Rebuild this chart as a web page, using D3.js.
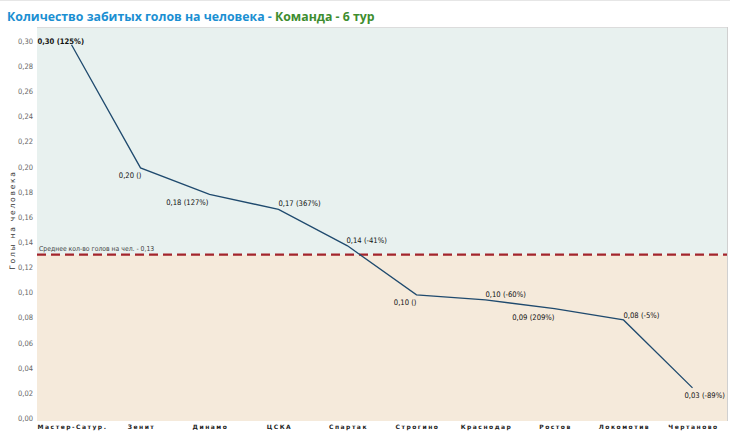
<!DOCTYPE html>
<html><head><meta charset="utf-8">
<script src="https://cdn.jsdelivr.net/npm/d3@7"></script>
<style>
html,body{margin:0;padding:0;background:#fff;}
svg{display:block;}
</style></head>
<body>
<svg id="chart" width="730" height="433"></svg>
<script>
// ---- data ----
const categories = ["Мастер-Сатур.","Зенит","Динамо","ЦСКА","Спартак","Строгино","Краснодар","Ростов","Локомотив","Чертаново"];
const values = [0.297, 0.199, 0.178, 0.166, 0.137, 0.098, 0.094, 0.087, 0.078, 0.024];
const valueLabels = ["0,30 (125%)","0,20 ()","0,18 (127%)","0,17 (367%)","0,14 (-41%)","0,10 ()","0,10 (-60%)","0,09 (209%)","0,08 (-5%)","0,03 (-89%)"];
const yTicks = [0,0.02,0.04,0.06,0.08,0.10,0.12,0.14,0.16,0.18,0.20,0.22,0.24,0.26,0.28,0.30];
const average = 0.13;
const averageLabel = "Среднее кол-во голов на чел. - 0,13";
const titleMain = "Количество забитых голов на человека - ";
const titleSub = "Команда - 6 тур";
const yAxisTitle = "Голы на человека";

// label placement (layout only): anchor side and shifts
const labelPlace = [
  {a:"start", dx:-34, dy:-1}, {a:"end", dx:1, dy:10}, {a:"end", dx:-1, dy:11}, {a:"start", dx:0, dy:-3},
  {a:"start", dx:-1, dy:-3}, {a:"end", dx:0, dy:10}, {a:"start", dx:0, dy:-3}, {a:"end", dx:0, dy:11},
  {a:"start", dx:0, dy:-2}, {a:"start", dx:-8, dy:10}
];

const svg = d3.select("#chart");
const W = 730, H = 433;
const plot = {left:37, right:727, top:27, bottom:421};

const x = d3.scaleBand().domain(categories).range([plot.left, plot.right]);
const y = d3.scaleLinear().domain([0, 0.30]).range([418, 41]);

// top border line
svg.append("line").attr("x1",0).attr("x2",W).attr("y1",0.5).attr("y2",0.5).attr("stroke","#e6e6e6");

// title
const title = svg.append("text").attr("x",7).attr("y",21)
  .attr("font-family","'Open Sans', sans-serif").attr("font-size",12.3).attr("font-weight",700);
title.append("tspan").attr("fill","#1b8fd2").text(titleMain);
title.append("tspan").attr("fill","#3e8d2f").text(titleSub);

// backgrounds
svg.append("rect").attr("x",plot.left).attr("y",plot.top).attr("width",plot.right-plot.left)
  .attr("height",y(average)-plot.top).attr("fill","#e8f1ef");
svg.append("rect").attr("x",plot.left).attr("y",y(average)).attr("width",plot.right-plot.left)
  .attr("height",plot.bottom-y(average)).attr("fill","#f5eadb");
svg.append("line").attr("x1",plot.left).attr("x2",plot.right).attr("y1",plot.top+0.5).attr("y2",plot.top+0.5)
  .attr("stroke","#dcdcdc");
svg.append("line").attr("x1",plot.right+0.5).attr("x2",plot.right+0.5).attr("y1",plot.top).attr("y2",plot.bottom)
  .attr("stroke","#d0d0d0");

// y axis
const yAxis = d3.axisLeft(y).tickValues(yTicks).tickSize(0).tickPadding(3)
  .tickFormat(d => d3.format(".2f")(d).replace(".", ","));
const gy = svg.append("g").attr("transform",`translate(${plot.left-1},0)`).call(yAxis);
gy.select(".domain").remove();
gy.selectAll("text").attr("font-family","'DejaVu Sans Condensed','DejaVu Sans', sans-serif").attr("font-size",7.5).attr("fill","#666");

// y axis title
svg.append("text").attr("transform",`translate(15,${220}) rotate(-90)`).attr("text-anchor","middle")
  .attr("font-family","'DejaVu Sans', sans-serif").attr("font-size",7.5).attr("letter-spacing",1.8)
  .attr("fill","#333").text(yAxisTitle);

// x axis
const xAxis = d3.axisBottom(x).tickSize(0).tickPadding(4);
const gx = svg.append("g").attr("transform",`translate(0,${plot.bottom})`).call(xAxis);
gx.select(".domain").remove();
gx.selectAll("text").attr("font-family","'DejaVu Sans', sans-serif").attr("font-size",6).attr("font-weight","bold")
  .attr("letter-spacing",1.5).attr("fill","#222").attr("dx",1);

// average line
svg.append("line").attr("x1",plot.left).attr("x2",plot.right).attr("y1",y(average)).attr("y2",y(average))
  .attr("stroke","#a3252c").attr("stroke-width",2.2).attr("stroke-dasharray","9,5");
svg.append("text").attr("x",plot.left+2).attr("y",y(average)-4)
  .attr("font-family","'DejaVu Sans Condensed','DejaVu Sans', sans-serif").attr("font-size",6.8).attr("fill","#444")
  .text(averageLabel);

// line
const cx = d => x(d) + x.bandwidth()/2;
const line = d3.line().x((d,i) => cx(categories[i])).y(d => y(d));
svg.append("path").datum(values).attr("d",line).attr("fill","none")
  .attr("stroke","#1f4a6e").attr("stroke-width",1.3);

// value labels
svg.selectAll("text.vl").data(values).enter().append("text").attr("class","vl")
  .attr("x",(d,i) => cx(categories[i]) + labelPlace[i].dx)
  .attr("y",(d,i) => y(d) + labelPlace[i].dy)
  .attr("text-anchor",(d,i) => labelPlace[i].a)
  .attr("font-family","'DejaVu Sans Condensed','DejaVu Sans', sans-serif").attr("font-size",7.6)
  .attr("font-weight",(d,i) => i===0 ? "bold" : "normal")
  .attr("fill","#111").text((d,i) => valueLabels[i]);
</script>
</body></html>
